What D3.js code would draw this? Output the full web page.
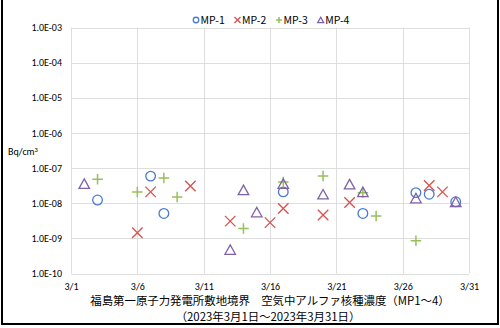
<!DOCTYPE html>
<html>
<head>
<meta charset="utf-8">
<script src="https://cdn.jsdelivr.net/npm/d3@7"></script>
<style>
  html, body { margin: 0; padding: 0; background: #fff; }
  svg { display: block; }
  text { fill: #000; }
</style>
</head>
<body>
<svg id="chart" width="500" height="328"></svg>
<script>
// Daily alpha-nuclide concentration at the site boundary monitoring posts (Bq/cm3), March 2023
const mp1Days = [3, 7, 8, 17, 23, 27, 28, 30];
const mp1Vals = [1.23e-8, 5.9e-8, 5.1e-9, 2.1e-8, 5.1e-9, 2.0e-8, 1.8e-8, 1.1e-8];

const mp2Days = [6, 7, 10, 13, 16, 17, 20, 22, 28, 29];
const mp2Vals = [1.45e-9, 2.1e-8, 3.1e-8, 3.1e-9, 2.8e-9, 7.1e-9, 4.6e-9, 1.05e-8, 3.2e-8, 2.1e-8];

const mp3Days = [3, 6, 8, 9, 14, 17, 20, 23, 24, 27];
const mp3Vals = [4.8e-8, 2.1e-8, 5.2e-8, 1.5e-8, 1.9e-9, 4.0e-8, 5.9e-8, 2.0e-8, 4.3e-9, 8.5e-10];

const mp4Days = [2, 13, 14, 15, 17, 20, 22, 23, 27, 30];
const mp4Vals = [3.6e-8, 4.8e-10, 2.4e-8, 5.6e-9, 3.6e-8, 1.8e-8, 3.5e-8, 2.1e-8, 1.4e-8, 1.1e-8];

const seriesNames = ["MP-1", "MP-2", "MP-3", "MP-4"];
const xTickDays = [1, 6, 11, 16, 21, 26, 31];
const yTickVals = [1e-10, 1e-9, 1e-8, 1e-7, 1e-6, 1e-5, 1e-4, 1e-3];
const yTickLabels = ["1.0E-10", "1.0E-09", "1.0E-08", "1.0E-07", "1.0E-06", "1.0E-05", "1.0E-04", "1.0E-03"];
const yUnit = "Bq/cm";
const titleLine1 = "福島第一原子力発電所敷地境界　空気中アルファ核種濃度（MP1～4）";
const titleLine2 = "（2023年3月1日～2023年3月31日）";

const day = d => new Date(Date.UTC(2023, 2, d));
const series = [
  { name: seriesNames[0], shape: "circle",   color: "#4a7bd0", pts: mp1Days.map((d, i) => [day(d), mp1Vals[i]]) },
  { name: seriesNames[1], shape: "cross",    color: "#d9504c", pts: mp2Days.map((d, i) => [day(d), mp2Vals[i]]) },
  { name: seriesNames[2], shape: "plus",     color: "#97c05a", pts: mp3Days.map((d, i) => [day(d), mp3Vals[i]]) },
  { name: seriesNames[3], shape: "triangle", color: "#7f62a6", pts: mp4Days.map((d, i) => [day(d), mp4Vals[i]]) }
];

const svg = d3.select("#chart");
const plot = { left: 71, right: 469, top: 27.5, bottom: 273.5 };

const x = d3.scaleUtc().domain([day(1), day(31)]).range([plot.left, plot.right]);
const y = d3.scaleLog().domain([1e-10, 1e-3]).range([plot.bottom, plot.top]);

const tickFont = "Carlito, 'Liberation Sans Narrow', 'Liberation Sans', Arial, sans-serif";
const jpFont = "'Noto Sans CJK JP', sans-serif";

// outer frame
svg.append("rect")
  .attr("x", 2).attr("y", -3).attr("width", 496).attr("height", 327)
  .attr("fill", "none").attr("stroke", "#000").attr("stroke-width", 2);

// gridlines
const grid = svg.append("g").attr("stroke", "#dedede").attr("stroke-width", 1);
grid.selectAll("line.h").data(yTickVals).join("line")
  .attr("x1", plot.left).attr("x2", plot.right)
  .attr("y1", d => Math.round(y(d)) + 0.5).attr("y2", d => Math.round(y(d)) + 0.5);
grid.selectAll("line.v").data(xTickDays).join("line")
  .attr("y1", plot.top).attr("y2", plot.bottom)
  .attr("x1", d => Math.round(x(day(d))) + 0.5).attr("x2", d => Math.round(x(day(d))) + 0.5);

// y axis
const yAxis = d3.axisLeft(y).tickValues(yTickVals)
  .tickFormat((d, i) => yTickLabels[i]).tickSize(0).tickPadding(9);
svg.append("g").attr("transform", `translate(${plot.left},0)`).call(yAxis)
  .call(g => g.select(".domain").remove())
  .call(g => g.selectAll("text").attr("font-family", tickFont).attr("font-size", 10).attr("fill", "#000"));

// x axis
const xAxis = d3.axisBottom(x).tickValues(xTickDays.map(day))
  .tickFormat(d3.utcFormat("%-m/%-d")).tickSize(0).tickPadding(9);
svg.append("g").attr("transform", `translate(0,${plot.bottom})`).call(xAxis)
  .call(g => g.select(".domain").remove())
  .call(g => g.selectAll("text").attr("font-family", tickFont).attr("font-size", 10).attr("fill", "#000"));

// unit label
const unit = svg.append("text").attr("x", 8).attr("y", 155)
  .attr("font-family", tickFont).attr("font-size", 10);
unit.append("tspan").text(yUnit);
unit.append("tspan").attr("font-size", 6.5).attr("dy", -3.5).text("3");

// marker shapes
function drawMarker(g, shape, color, size) {
  const s = size;
  if (shape === "circle") {
    g.append("circle").attr("r", s * 0.46).attr("fill", "none").attr("stroke", color).attr("stroke-width", 1.3);
  } else if (shape === "cross") {
    g.append("path").attr("d", `M${-s/2},${-s/2}L${s/2},${s/2}M${-s/2},${s/2}L${s/2},${-s/2}`)
      .attr("stroke", color).attr("stroke-width", 1.3).attr("fill", "none");
  } else if (shape === "plus") {
    g.append("path").attr("d", `M${-s/2},0L${s/2},0M0,${-s/2}L0,${s/2}`)
      .attr("stroke", color).attr("stroke-width", 1.5).attr("fill", "none");
  } else {
    const h = s * 0.9;
    g.append("path").attr("d", `M0,${-h/2}L${s/2},${h/2}L${-s/2},${h/2}Z`)
      .attr("stroke", color).attr("stroke-width", 1.3).attr("fill", "none").attr("stroke-linejoin", "miter");
  }
}

// data points
series.forEach(sr => {
  const g = svg.append("g");
  sr.pts.forEach(p => {
    const m = g.append("g").attr("transform", `translate(${x(p[0])},${y(p[1])})`);
    drawMarker(m, sr.shape, sr.color, 10.5);
  });
});

// legend
const legendX = [196, 237.5, 279, 320.7];
seriesNames.forEach((n, i) => {
  const m = svg.append("g").attr("transform", `translate(${legendX[i]},20)`);
  drawMarker(m, series[i].shape, series[i].color, 6);
  svg.append("text").attr("x", legendX[i] + 4.5).attr("y", 20).attr("dy", "0.35em")
    .attr("font-family", jpFont).attr("font-size", 10.5).text(n);
});

// title
const cx = (plot.left + plot.right) / 2;
svg.append("text").attr("x", cx).attr("y", 301.5).attr("dy", "0.35em").attr("text-anchor", "middle")
  .attr("font-family", jpFont).attr("font-size", 11.4).text(titleLine1);
svg.append("text").attr("x", cx - 2).attr("y", 317.5).attr("dy", "0.35em").attr("text-anchor", "middle")
  .attr("font-family", jpFont).attr("font-size", 11.4).text(titleLine2);
</script>
</body>
</html>
